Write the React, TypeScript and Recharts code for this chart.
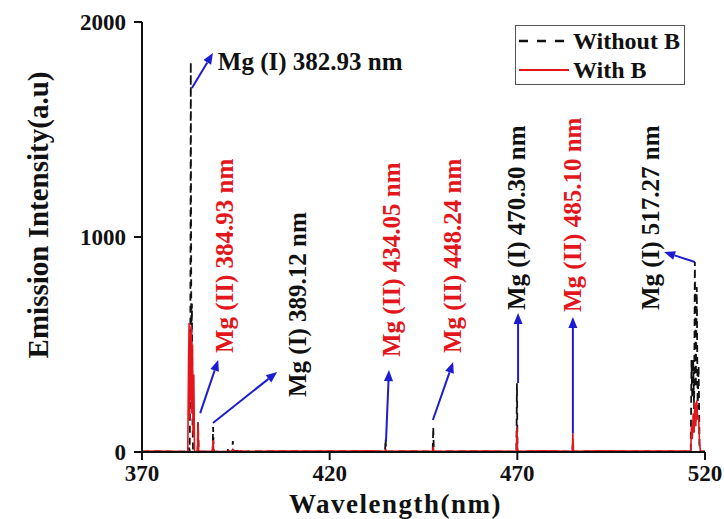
import React from 'react';
import { LineChart, Line, XAxis, YAxis, Legend, ReferenceLine, ReferenceDot, Label } from 'recharts';

const FONT = "'Liberation Serif', 'Times New Roman', serif";
const RED = '#e3161c';
const BLUE = '#1c1cd0';

// wavelength (nm) and intensities
const wavelength = [370, 374, 378, 382.2, 382.4, 382.55, 382.7, 382.85, 383.0, 383.15, 383.3, 383.45, 383.6, 383.8, 384.0, 384.8, 384.93, 385.1, 388.8, 388.95, 389.1, 392.8, 392.95, 393.1, 394.05, 394.2, 394.35, 396.5, 397, 405, 415, 425, 431, 434.75, 434.9, 435.05, 441, 447.45, 447.6, 447.75, 458, 465, 469.75, 469.9, 470.05, 477, 484.65, 484.8, 484.95, 492, 500, 508, 514, 516.2, 516.4, 516.6, 516.85, 517.1, 517.3, 517.55, 517.8, 518.05, 518.3, 518.55, 518.8, 520];
const withoutB = [2, 3, 2, 1, 2, 20, 5, 300, 1814, 400, 690, 150, 5, 2, 1, 2, 138, 2, 2, 116, 2, 1, 23, 2, 3, 51, 3, 8, 2, 3, 2, 3, 2, 2, 62, 2, 3, 2, 116, 2, 3, 2, 2, 320, 2, 3, 2, 40, 2, 3, 2, 3, 2, 3, 428, 250, 430, 200, 884, 300, 767, 200, 400, 5, 2, 2];
const withB = [3, 4, 3, 2, 420, 600, 150, 560, 240, 590, 180, 500, 80, 360, 2, 3, 135, 3, 3, 56, 3, 2, 6, 2, 3, 10, 3, 5, 3, 4, 5, 4, 6, 3, 14, 3, 4, 3, 25, 3, 5, 4, 3, 116, 3, 6, 3, 88, 3, 5, 4, 5, 4, 4, 120, 60, 180, 90, 230, 120, 240, 150, 160, 40, 3, 3];

const xTicks = [370, 420, 470, 520];
const yTicks = [0, 1000, 2000];

// line labels: text, colour, anchor (wavelength, intensity), rotated or not
const labelText = ['Mg (I) 382.93 nm', 'Mg (II) 384.93 nm', 'Mg (I) 389.12 nm', 'Mg (II) 434.05 nm', 'Mg (II) 448.24 nm', 'Mg (I) 470.30 nm', 'Mg (II) 485.10 nm', 'Mg (I) 517.27 nm'];
const labelColor = ['#111', RED, '#111', RED, RED, '#111', RED, '#111'];
const labelX = [390.2, 392.1, 411.3, 436.6, 452.6, 469.9, 484.6, 505.4];
const labelY = [1814, 460, 256, 442, 460, 660, 651, 660];
const labelRotated = [false, true, true, true, true, true, true, true];

// arrows from peak to label: [x1, y1, x2, y2]
const arrows = [
  [383.3, 1693, 388.9, 1856],
  [385.5, 181, 390.3, 428],
  [388.9, 135, 406.0, 372],
  [435.0, 47, 435.8, 381],
  [447.5, 149, 452.9, 419],
  [470.2, 321, 470.2, 647],
  [484.8, 88, 484.8, 628],
  [517.3, 884, 509.1, 930],
];

const data = wavelength.map((w, i) => ({ wl: w, without: withoutB[i], withB: withB[i] }));

const Arrow = (p: any) => {
  const { x1, y1, x2, y2 } = p;
  const a = Math.atan2(y2 - y1, x2 - x1);
  const c = Math.cos(a), s = Math.sin(a);
  const bx = x2 - 11 * c, by = y2 - 11 * s;
  return (
    <g>
      <line x1={x1} y1={y1} x2={bx} y2={by} stroke={BLUE} strokeWidth={2} />
      <polygon points={`${x2},${y2} ${bx - 4.5 * s},${by + 4.5 * c} ${bx + 4.5 * s},${by - 4.5 * c}`} fill={BLUE} />
    </g>
  );
};

const LegendBox = () => (
  <div style={{ border: '1px solid #555', background: '#fff', width: 170, height: 60, fontFamily: FONT, fontWeight: 'bold', fontSize: 24, boxSizing: 'border-box' }}>
    <div style={{ display: 'flex', alignItems: 'center', height: 30 }}>
      <svg width={54} height={10} style={{ marginLeft: 3 }}>
        <line x1={0} y1={5} x2={52} y2={5} stroke="#111" strokeWidth={2.5} strokeDasharray="9 9" />
      </svg>
      <span style={{ color: '#111', lineHeight: '30px' }}>Without B</span>
    </div>
    <div style={{ display: 'flex', alignItems: 'center', height: 28 }}>
      <svg width={54} height={10} style={{ marginLeft: 3 }}>
        <line x1={0} y1={5} x2={50} y2={5} stroke={RED} strokeWidth={2} />
      </svg>
      <span style={{ color: '#111', lineHeight: '28px' }}>With B</span>
    </div>
  </div>
);

export default function App() {
  const tickStyle = { fontFamily: FONT, fontWeight: 'bold', fontSize: 23, fill: '#111' };
  return (
    <div style={{ position: 'absolute', left: 0, top: 0, background: '#fff' }}>
      <LineChart width={724} height={519} data={data} margin={{ top: 22, right: 19, bottom: 0, left: 0 }}>
        <XAxis dataKey="wl" type="number" domain={[370, 520]} ticks={xTicks} height={67} tickSize={8} tickMargin={5}
          tick={tickStyle} axisLine={{ stroke: '#111', strokeWidth: 2 }} tickLine={{ stroke: '#111', strokeWidth: 2 }} allowDataOverflow>
          <Label content={({ viewBox }: any) => (
            <text x={viewBox.x + viewBox.width / 2 - 28} y={viewBox.y + 61} textAnchor="middle"
              style={{ fontFamily: FONT, fontWeight: 'bold', fontSize: 27, letterSpacing: 1.5, fill: '#111' }}>Wavelength(nm)</text>
          )} />
        </XAxis>
        <XAxis xAxisId="top" orientation="top" type="number" dataKey="wl" domain={[370, 520]} height={0} tick={false} tickLine={false}
          axisLine={{ stroke: '#111', strokeWidth: 2 }} />
        <YAxis domain={[0, 2000]} ticks={yTicks} width={142} tickSize={8} tickMargin={8} tick={tickStyle}
          axisLine={{ stroke: '#111', strokeWidth: 2 }} tickLine={{ stroke: '#111', strokeWidth: 2 }}>
          <Label content={({ viewBox }: any) => {
            const cx = viewBox.x + 38;
            const cy = viewBox.y + viewBox.height / 2 - 22;
            return (
              <text x={cx} y={cy} transform={`rotate(-90 ${cx} ${cy})`} textAnchor="middle" dominantBaseline="central"
                style={{ fontFamily: FONT, fontWeight: 'bold', fontSize: 29, fill: '#111' }}>Emission Intensity(a.u)</text>
            );
          }} />
        </YAxis>
        <YAxis yAxisId="right" orientation="right" domain={[0, 2000]} width={0} tick={false} tickLine={false}
          axisLine={{ stroke: '#111', strokeWidth: 2 }} />
        <Legend layout="vertical" align="center" verticalAlign="middle" content={() => <LegendBox />}
          wrapperStyle={{ position: 'absolute', left: 515, top: 25, width: 172, height: 62 }} />
        <Line type="linear" dataKey="without" name="Without B" stroke="#111" strokeWidth={1.8} strokeDasharray="7 5" dot={false} isAnimationActive={false} />
        <Line type="linear" dataKey="withB" name="With B" stroke={RED} strokeWidth={1.6} dot={false} isAnimationActive={false} />
        {arrows.map((a, i) => (
          <ReferenceLine key={'a' + i} segment={[{ x: a[0], y: a[1] }, { x: a[2], y: a[3] }]} shape={Arrow} ifOverflow="visible" />
        ))}
        {labelText.map((t, i) => (
          <ReferenceDot key={'l' + i} x={labelX[i]} y={labelY[i]} r={1} ifOverflow="visible"
            shape={(p: any) => (
              <text x={p.cx} y={p.cy} transform={labelRotated[i] ? `rotate(-90 ${p.cx} ${p.cy})` : undefined}
                textAnchor="start" dominantBaseline="central"
                style={{ fontFamily: FONT, fontWeight: 'bold', fontSize: 25, fill: labelColor[i] }}>{t}</text>
            )} />
        ))}
      </LineChart>
    </div>
  );
}
